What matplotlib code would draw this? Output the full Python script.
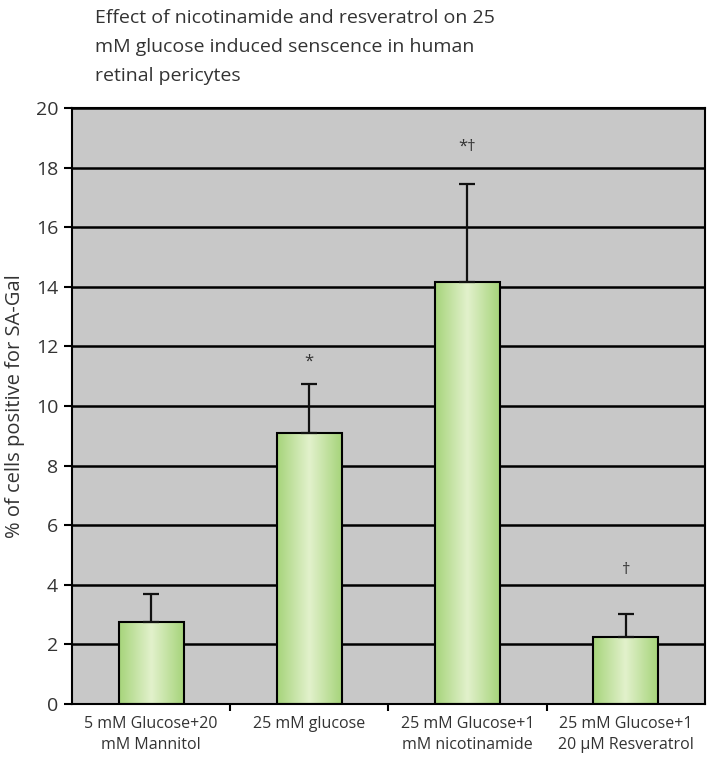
import matplotlib
matplotlib.use("Agg")
import matplotlib.pyplot as plt
import numpy as np
from matplotlib.colors import LinearSegmentedColormap

categories = ["5 mM Glucose+20\nmM Mannitol", "25 mM glucose",
              "25 mM Glucose+1\nmM nicotinamide", "25 mM Glucose+1\n20 \u00b5M Resveratrol"]
values = [2.75, 9.08, 14.15, 2.25]
errors = [0.93, 1.65, 3.3, 0.78]
marks = ["", "*", "*\u2020", "\u2020"]
mark_y = [None, 11.5, 18.7, 4.5]
yticks = [0, 2, 4, 6, 8, 10, 12, 14, 16, 18, 20]

plt.rcParams['font.family'] = ['Open Sans', 'DejaVu Sans']

fig = plt.figure(figsize=(7.09, 7.60), dpi=100)
ax = fig.add_axes([0.1016, 0.0737, 0.8924, 0.7843])
ax.set_facecolor('#c8c8c8')

for t in yticks[1:]:
    ax.axhline(t, color='black', lw=1.8, zorder=1)

x = np.arange(len(categories))
w = 0.41
cmap = LinearSegmentedColormap.from_list('g', ['#a6d47a', '#e2f1cc', '#a6d47a'])
grad = np.linspace(0, 1, 256).reshape(1, -1)
bars = ax.bar(x, values, width=w, facecolor='none', edgecolor='black', lw=1.5, zorder=3)
for b in bars:
    x0, y0 = b.get_x(), b.get_y()
    im = ax.imshow(grad, cmap=cmap, extent=(x0, x0 + b.get_width(), y0, y0 + b.get_height()),
                   aspect='auto', zorder=2, interpolation='bicubic')
    im.set_clip_path(b)
ax.set_xlim(-0.5, 3.5)
ax.set_ylim(0, 20)

ax.errorbar(x, values, yerr=[np.zeros(4), errors], fmt='none', ecolor='#111111',
            elinewidth=1.6, capsize=6, capthick=1.6, zorder=4)
for xi, m, my in zip(x, marks, mark_y):
    if m:
        ax.text(xi, my, m, ha='center', va='center', fontsize=12, color='#333333')

ax.set_yticks(yticks)
ax.set_yticklabels([str(t) for t in yticks], fontsize=14, color='#333333')
ax.set_xticks([0.5, 1.5, 2.5])
ax.set_xticklabels([])
ax.set_xticks(x, minor=True)
ax.set_xticklabels(categories, minor=True, fontsize=11.5, color='#333333', linespacing=1.35)
ax.tick_params(axis='x', which='minor', length=0, pad=9)
ax.tick_params(axis='x', which='major', length=5, width=1.5, direction='out')
ax.tick_params(axis='y', length=6, width=1.5, direction='out', pad=4)
for s in ax.spines.values():
    s.set_linewidth(1.5)
    s.set_color('black')

ax.set_ylabel("% of cells positive for SA-Gal", fontsize=14.5, color='#333333', labelpad=8)
fig.text(0.134, 0.988, "Effect of nicotinamide and resveratrol on 25\nmM glucose induced senscence in human\nretinal pericytes",
         ha='left', va='top', fontsize=14, color='#333333', linespacing=1.78)

fig.savefig("out.png", dpi=100)
